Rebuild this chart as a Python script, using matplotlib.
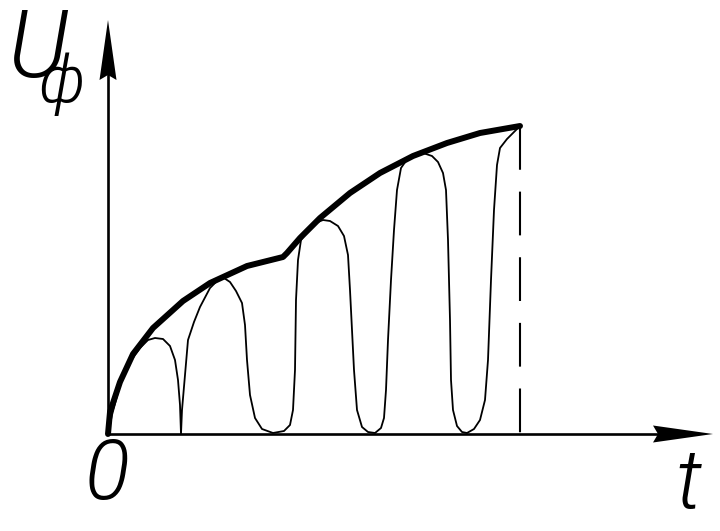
# imports
import matplotlib
matplotlib.use("Agg")
import matplotlib.pyplot as plt

plt.rcParams["mathtext.fontset"] = "custom"
plt.rcParams["mathtext.it"] = "Roboto:style=italic:weight=300"
plt.rcParams["mathtext.rm"] = "Roboto:weight=300"

# drop the subscript a bit lower, like in the drawing
try:
    import matplotlib._mathtext as _mt
    _mt.FontConstantsBase.sub1 = 0.5
except Exception:
    pass

# data (t along the time axis, u along the voltage axis)
env_t = [0, 2, 12, 25, 45, 75, 102, 139, 175, 179, 192, 212, 242, 272, 305, 339, 372, 412]
env_u = [0, 22, 52, 80, 106, 133, 151, 168, 177, 181, 196, 216, 241, 261, 278, 291, 301, 308]

wave_t = [0, 4, 12, 22, 32, 40, 47, 55, 62, 67, 70, 72, 73,
          74, 77, 80, 86, 92, 102, 110, 116, 122, 128, 134, 137, 139, 142, 147, 154, 165,
          176, 182, 185, 187, 188, 190, 193, 202, 210, 215, 222, 230, 236, 240, 242, 244,
          246, 249, 254, 260, 267, 273, 276, 278, 280, 283, 286, 289, 293, 300, 307, 315,
          324, 330, 335, 338, 340, 342, 343, 345, 349, 354, 359, 366, 372, 377, 380, 383,
          386, 389, 392, 399, 405, 411]
wave_u = [0, 19, 49, 72, 86, 94, 96, 95, 88, 74, 54, 29, 0,
          24, 59, 94, 112, 127, 146, 154, 156, 152, 143, 131, 109, 74, 39, 16, 5, 1,
          3, 9, 24, 64, 134, 174, 194, 206, 212, 214, 213, 208, 198, 179, 144, 104,
          64, 24, 7, 2, 1, 6, 16, 44, 94, 154, 204, 244, 266, 276, 280, 281,
          278, 272, 261, 244, 194, 114, 54, 24, 8, 2, 1, 5, 14, 34, 74, 154,
          224, 269, 286, 295, 301, 307]

t_axis_end = 605
u_axis_end = 414
head_len = 60
head_half = 8.5
head_notch = 5

label_u = r"$U_{\!\!\!\phi}$"
label_origin = "0"
label_t = "t"

# figure, one axes over the whole canvas, 1 unit = 1 pixel
fig = plt.figure(figsize=(7.2, 5.31), dpi=100)
ax = fig.add_axes([0, 0, 1, 1])
ax.set_xlim(-108, 612)
ax.set_ylim(-97, 434)
ax.axis("off")

# axes lines
ax.plot([0, 0], [0, u_axis_end - head_len + head_notch], color="black", lw=1.9)
ax.plot([0, t_axis_end - head_len + head_notch], [0, 0], color="black", lw=1.9)

# arrow heads (notched)
ax.fill([0, -head_half, 0, head_half],
        [u_axis_end, u_axis_end - head_len, u_axis_end - head_len + head_notch, u_axis_end - head_len],
        color="black", lw=0)
ax.fill([t_axis_end, t_axis_end - head_len, t_axis_end - head_len + head_notch, t_axis_end - head_len],
        [0, head_half, 0, -head_half],
        color="black", lw=0)

# curves
ax.plot(wave_t, wave_u, color="black", lw=1.3, solid_joinstyle="round")
ax.plot(env_t, env_u, color="black", lw=4.3, solid_capstyle="round", solid_joinstyle="round")
ax.plot([env_t[-1], env_t[-1]], [env_u[-1], 0], color="black", lw=1.5,
        linestyle=(0, (21, 10.5)))

# labels
font = dict(family=["Roboto", "DejaVu Sans"], style="italic", weight=300, color="black")
ax.text(-101, 356, label_u, fontsize=68, ha="left", va="baseline", **font)
ax.text(-1, -42, label_origin, fontsize=60, ha="center", va="center", **font)
ax.text(580, -51, label_t, fontsize=60, ha="center", va="center", **font)

plt.savefig("out.png", dpi=100)
